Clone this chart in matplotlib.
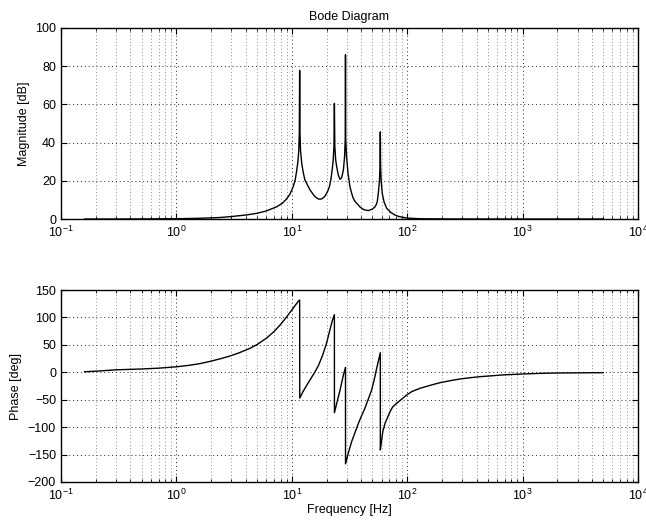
import matplotlib
matplotlib.use('Agg')
import matplotlib.pyplot as plt
from matplotlib.ticker import LogLocator, NullFormatter

# magnitude
freq_mag = [0.16, 0.3, 0.5, 1.0, 1.5, 2.0, 2.4, 3.0, 4.0, 5.0, 6.0, 7.4, 8.3, 9.0,
            9.6, 10.3, 10.7, 11.0, 11.3, 11.5, 11.62, 11.7, 11.78, 11.9, 12.2, 12.6,
            13.0, 14.4, 15.5, 16.2, 17.0, 17.8, 18.5, 19.3, 20.0, 20.7, 21.2, 21.8,
            22.2, 22.8, 23.2, 23.4, 23.6, 24.0, 24.5, 25.2, 26.1, 27.0, 28.0, 28.7,
            29.05, 29.2, 29.35, 29.8, 30.7, 31.9, 33.0, 34.0, 35.2, 36.5, 39.0, 42.0,
            46.0, 50.0, 52.6, 54.0, 55.0, 56.2, 57.5, 58.2, 58.5, 58.8, 59.5, 60.8,
            63.0, 66.4, 72.0, 78.3, 85.0, 99.0, 130, 200, 500, 1000, 2000, 5000]
mag_db = [0.0, 0.0, 0.05, 0.15, 0.35, 0.6, 0.8, 1.3, 2.1, 3.0, 4.2, 6.4, 8.3, 10.5,
          12.8, 17.0, 20.5, 24.8, 30.0, 36.0, 45.0, 77.8, 45.0, 36.0, 29.0, 24.0,
          20.4, 15.2, 12.5, 11.3, 10.5, 10.4, 10.8, 11.8, 13.4, 15.2, 17.0, 20.5,
          24.0, 30.0, 38.0, 60.5, 38.0, 31.0, 27.4, 23.5, 20.8, 21.5, 25.6, 33.0,
          42.0, 86.0, 42.0, 33.0, 24.0, 17.0, 13.5, 11.0, 9.3, 8.3, 6.3, 4.9,
          4.4, 5.2, 6.4, 7.6, 9.0, 13.4, 20.0, 28.0, 45.6, 28.0, 20.0, 13.4,
          9.0, 5.6, 3.5, 2.1, 1.3, 0.5, 0.15, 0.05, 0.0, 0.0, 0.0, 0.0]

# phase
freq_ph = [0.16, 0.2, 0.3, 0.5, 0.7, 1.0, 1.3, 1.6, 1.95, 2.4, 2.9, 3.5, 4.34, 5.0,
           6.06, 7.0, 7.9, 8.8, 9.64, 10.3, 10.8, 11.3, 11.70,
           11.72, 12.5, 13.9, 15.5, 17.0, 18.5, 20.0, 21.5, 22.5, 23.40,
           23.42, 26.2, 28.0, 29.20,
           29.22, 31.0, 33.0, 37.8, 40.3, 43.0, 46.0, 49.2, 52.0, 54.4, 56.5, 58.50,
           58.52, 59.5, 61.5, 64.3, 71.0, 75.0, 81.1, 99.0, 110, 129, 160, 192, 240,
           287, 350, 427, 700, 1000, 1500, 2000, 3000, 5000]
phase_deg = [1.0, 2.0, 4.5, 6.0, 7.5, 10.0, 12.8, 15.8, 19.8, 24.6, 29.5, 35.5, 43.7, 50.5,
             62.5, 74.0, 86.0, 98.0, 109.0, 117.0, 123.0, 128.5, 131.8,
             -47.0, -35.3, -19.0, -3.0, 12.0, 31.0, 52.9, 79.0, 95.0, 105.0,
             -73.6, -32.3, -5.0, 9.1,
             -167.0, -146.0, -126.5, -93.0, -79.0, -65.6, -49.0, -32.3, -12.0, 7.3, 22.0, 35.7,
             -141.6, -130.0, -108.0, -93.0, -71.8, -63.0, -56.5, -41.4, -35.0, -29.2, -23.5,
             -19.0, -15.0, -12.2, -10.0, -8.0, -4.6, -3.1, -1.8, -1.3, -1.0, -0.7]

plt.rcParams['font.family'] = ['Liberation Sans', 'DejaVu Sans']
plt.rcParams['mathtext.fontset'] = 'custom'
plt.rcParams['mathtext.rm'] = 'Liberation Sans'
plt.rcParams['mathtext.it'] = 'Liberation Sans:italic'
plt.rcParams['font.size'] = 9

fig = plt.figure(figsize=(6.46, 5.27), dpi=100)
ax1 = fig.add_axes([0.0944, 0.5844, 0.8932, 0.3625])
ax2 = fig.add_axes([0.0944, 0.0854, 0.8932, 0.3643])

ax1.plot(freq_mag, mag_db, color='k', lw=1.0)
ax2.plot(freq_ph, phase_deg, color='k', lw=1.0)

dots = (0, (1, 3))
for ax in (ax1, ax2):
    ax.set_xscale('log')
    ax.set_xlim(0.1, 1e4)
    ax.xaxis.set_major_locator(LogLocator(base=10, numticks=10))
    ax.xaxis.set_minor_locator(LogLocator(base=10, subs=range(2, 10), numticks=20))
    ax.xaxis.set_minor_formatter(NullFormatter())
    ax.grid(True, which='major', ls=dots, color='0.15', lw=0.7)
    ax.grid(True, which='minor', axis='x', ls=dots, color='0.4', lw=0.6)
    ax.tick_params(which='both', direction='in', top=True, right=True, labelsize=9)
    ax.tick_params(which='major', length=4, width=0.8)
    ax.tick_params(which='minor', length=2, width=0.6)
    ax.tick_params(axis='x', which='major', pad=4)
    for s in ax.spines.values():
        s.set_linewidth(1.0)

ax1.set_ylim(0, 100)
ax1.set_yticks([0, 20, 40, 60, 80, 100])
ax1.set_ylabel('Magnitude [dB]')
ax1.set_title('Bode Diagram', fontsize=9)

ax2.set_ylim(-200, 150)
ax2.set_yticks([-200, -150, -100, -50, 0, 50, 100, 150])
ax2.set_ylabel('Phase [deg]')
ax2.set_xlabel('Frequency [Hz]', labelpad=1)

fig.savefig('out.png', dpi=100)
